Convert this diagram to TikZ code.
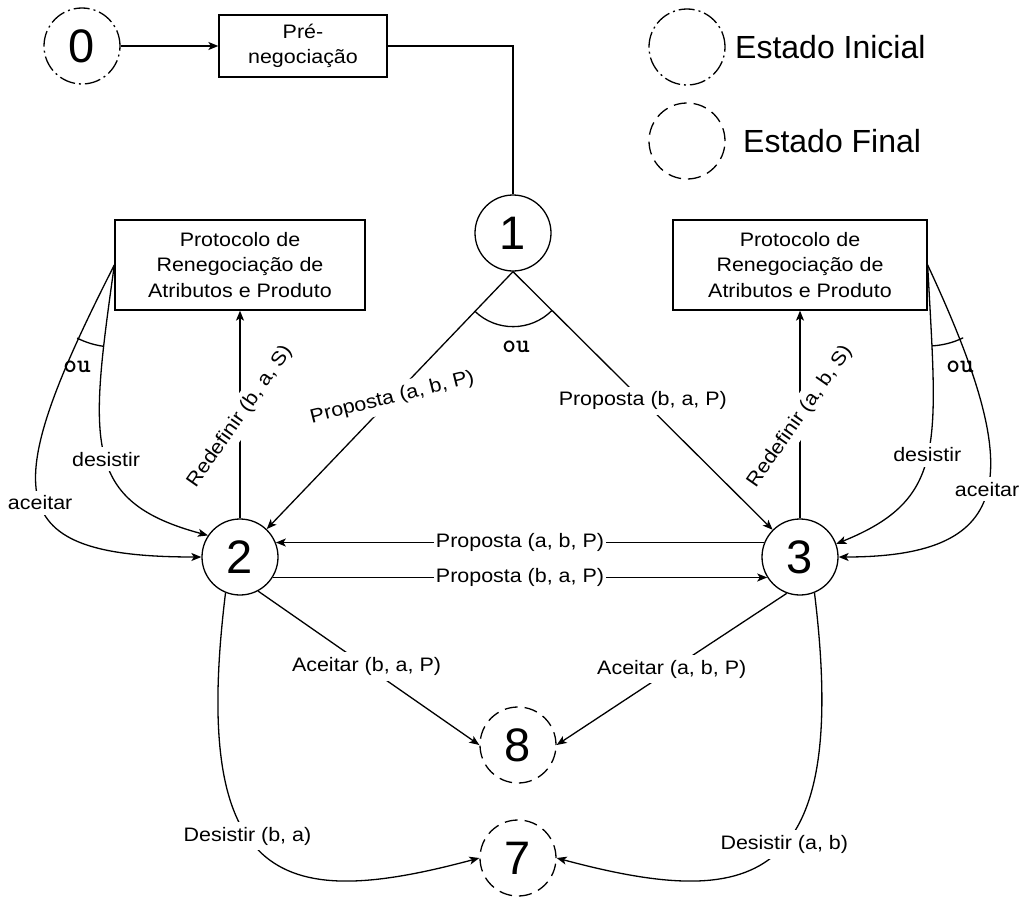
\documentclass[tikz,border=0pt]{standalone}
\usepackage{fontspec}
\setmainfont{Liberation Sans}
\newfontfamily\labf{Liberation Sans}[FakeStretch=1.1]
\usetikzlibrary{arrows.meta}
\tikzset{
  ln/.style={line width=1.3pt},
  st/.style={circle,draw,ln,minimum size=76pt,inner sep=0pt,font=\fontsize{47}{47}\selectfont},
  inist/.style={st,dash pattern=on 16pt off 4pt on 2pt off 4pt},
  finst/.style={st,dash pattern=on 13pt off 7pt},
  boxn/.style={draw,ln,align=center,inner sep=0pt,font=\labf\fontsize{19.5}{25.5}\selectfont},
  lab/.style={fill=white,inner xsep=2pt,inner ysep=5pt,font=\labf\fontsize{19.5}{22}\selectfont},
  arr/.style={ln,-{Stealth[length=10pt,width=8pt,inset=2.5pt]}},
  oulab/.style={font=\ttfamily\bfseries\fontsize{26}{26}\selectfont,inner sep=0pt},
  legtext/.style={font=\fontsize{32}{32}\selectfont,anchor=west,inner sep=0pt},
}
\begin{document}
\begin{tikzpicture}[x=1pt,y=1pt]
\useasboundingbox (0,0) rectangle (1022,-899);
% states
\node[inist] (n0) at (82,-46) {0};
\node[boxn,minimum width=168pt,minimum height=62pt] (pb) at (303,-46) {Pré-\\negociação};
\node[inist] (li) at (687,-47) {};
\node[finst] (lf) at (687,-141) {};
\node[legtext] (lit) at (735,-47) {Estado Inicial};
\node[legtext] (lft) at (743,-141) {Estado Final};
\node[st] (n1) at (513,-233) {1};
\node[boxn,minimum width=250pt,minimum height=90pt] (lb) at (240,-265) {Protocolo de\\Renegociação de\\Atributos e Produto};
\node[boxn,minimum width=254pt,minimum height=90pt] (rb) at (800,-265) {Protocolo de\\Renegociação de\\Atributos e Produto};
\node[st] (n2) at (240,-557) {2};
\node[st] (n3) at (800,-557) {3};
\node[finst] (n8) at (518,-745) {8};
\node[finst] (n7) at (518,-858) {7};
% top
\draw[arr] (n0) -- (pb);
\draw[ln] (pb.east) -| (n1.north);
% from 1
\draw[arr] (n1.south) -- node[lab,rotate=14,pos=0.49]{Proposta (a, b, P)} (n2);
\draw[arr] (n1.south) -- node[lab,pos=0.5]{Proposta (b, a, P)} (n3);
\draw[ln] (n1.south) ++(226:55) arc[start angle=226,end angle=315,radius=55];
\node[oulab] (ou1) at (516,-347) {ou};
% redefinir
\draw[arr] (n2) -- node[lab,rotate=55,pos=0.49]{Redefinir (b, a, S)} (lb);
\draw[arr] (n3) -- node[lab,rotate=55,pos=0.49]{Redefinir (a, b, S)} (rb);
% 2 <-> 3
\draw[arr] (n3.158) -- node[lab]{Proposta (a, b, P)} (n2.22);
\draw[arr] (n2.-32) -- node[lab]{Proposta (b, a, P)} (n3.212);
% to 8
\draw[arr] (n2.-62) -- node[lab,pos=0.49]{Aceitar (b, a, P)} (n8.west);
\draw[arr] (n3.-110) -- node[lab,pos=0.5]{Aceitar (a, b, P)} (n8.east);
% to 7
\draw[arr] (n2.-112) .. controls +(-97:300) and +(195:200) .. node[lab,pos=0.42]{Desistir (b, a)} (n7.west);
\draw[arr] (n3.-68) .. controls +(-83:300) and +(-15:200) .. node[lab,pos=0.45]{Desistir (a, b)} (n7.east);
% left box loops
\draw[arr] (lb.west) .. controls +(-117:260) and +(180:200) .. node[lab,pos=0.52]{aceitar} (n2.west);
\draw[arr] (lb.west) .. controls +(-98:180) and +(165:130) .. node[lab,pos=0.52]{desistir} (n2.146);
\draw[ln] (lb.west) ++(243:82) arc[start angle=243,end angle=262,radius=82];
\node[oulab] (ou2) at (77,-367) {ou};
% right box loops
\draw[arr] (rb.east) .. controls +(-65:230) and +(0:180) .. node[lab,pos=0.5]{aceitar} (n3.east);
\draw[arr] (rb.east) .. controls +(-87:180) and +(22:120) .. node[lab,pos=0.5]{desistir} (n3.20);
\draw[ln] (rb.east) ++(-87:81) arc[start angle=-87,end angle=-64,radius=81];
\node[oulab] (ou3) at (960,-367) {ou};
\end{tikzpicture}
\end{document}
